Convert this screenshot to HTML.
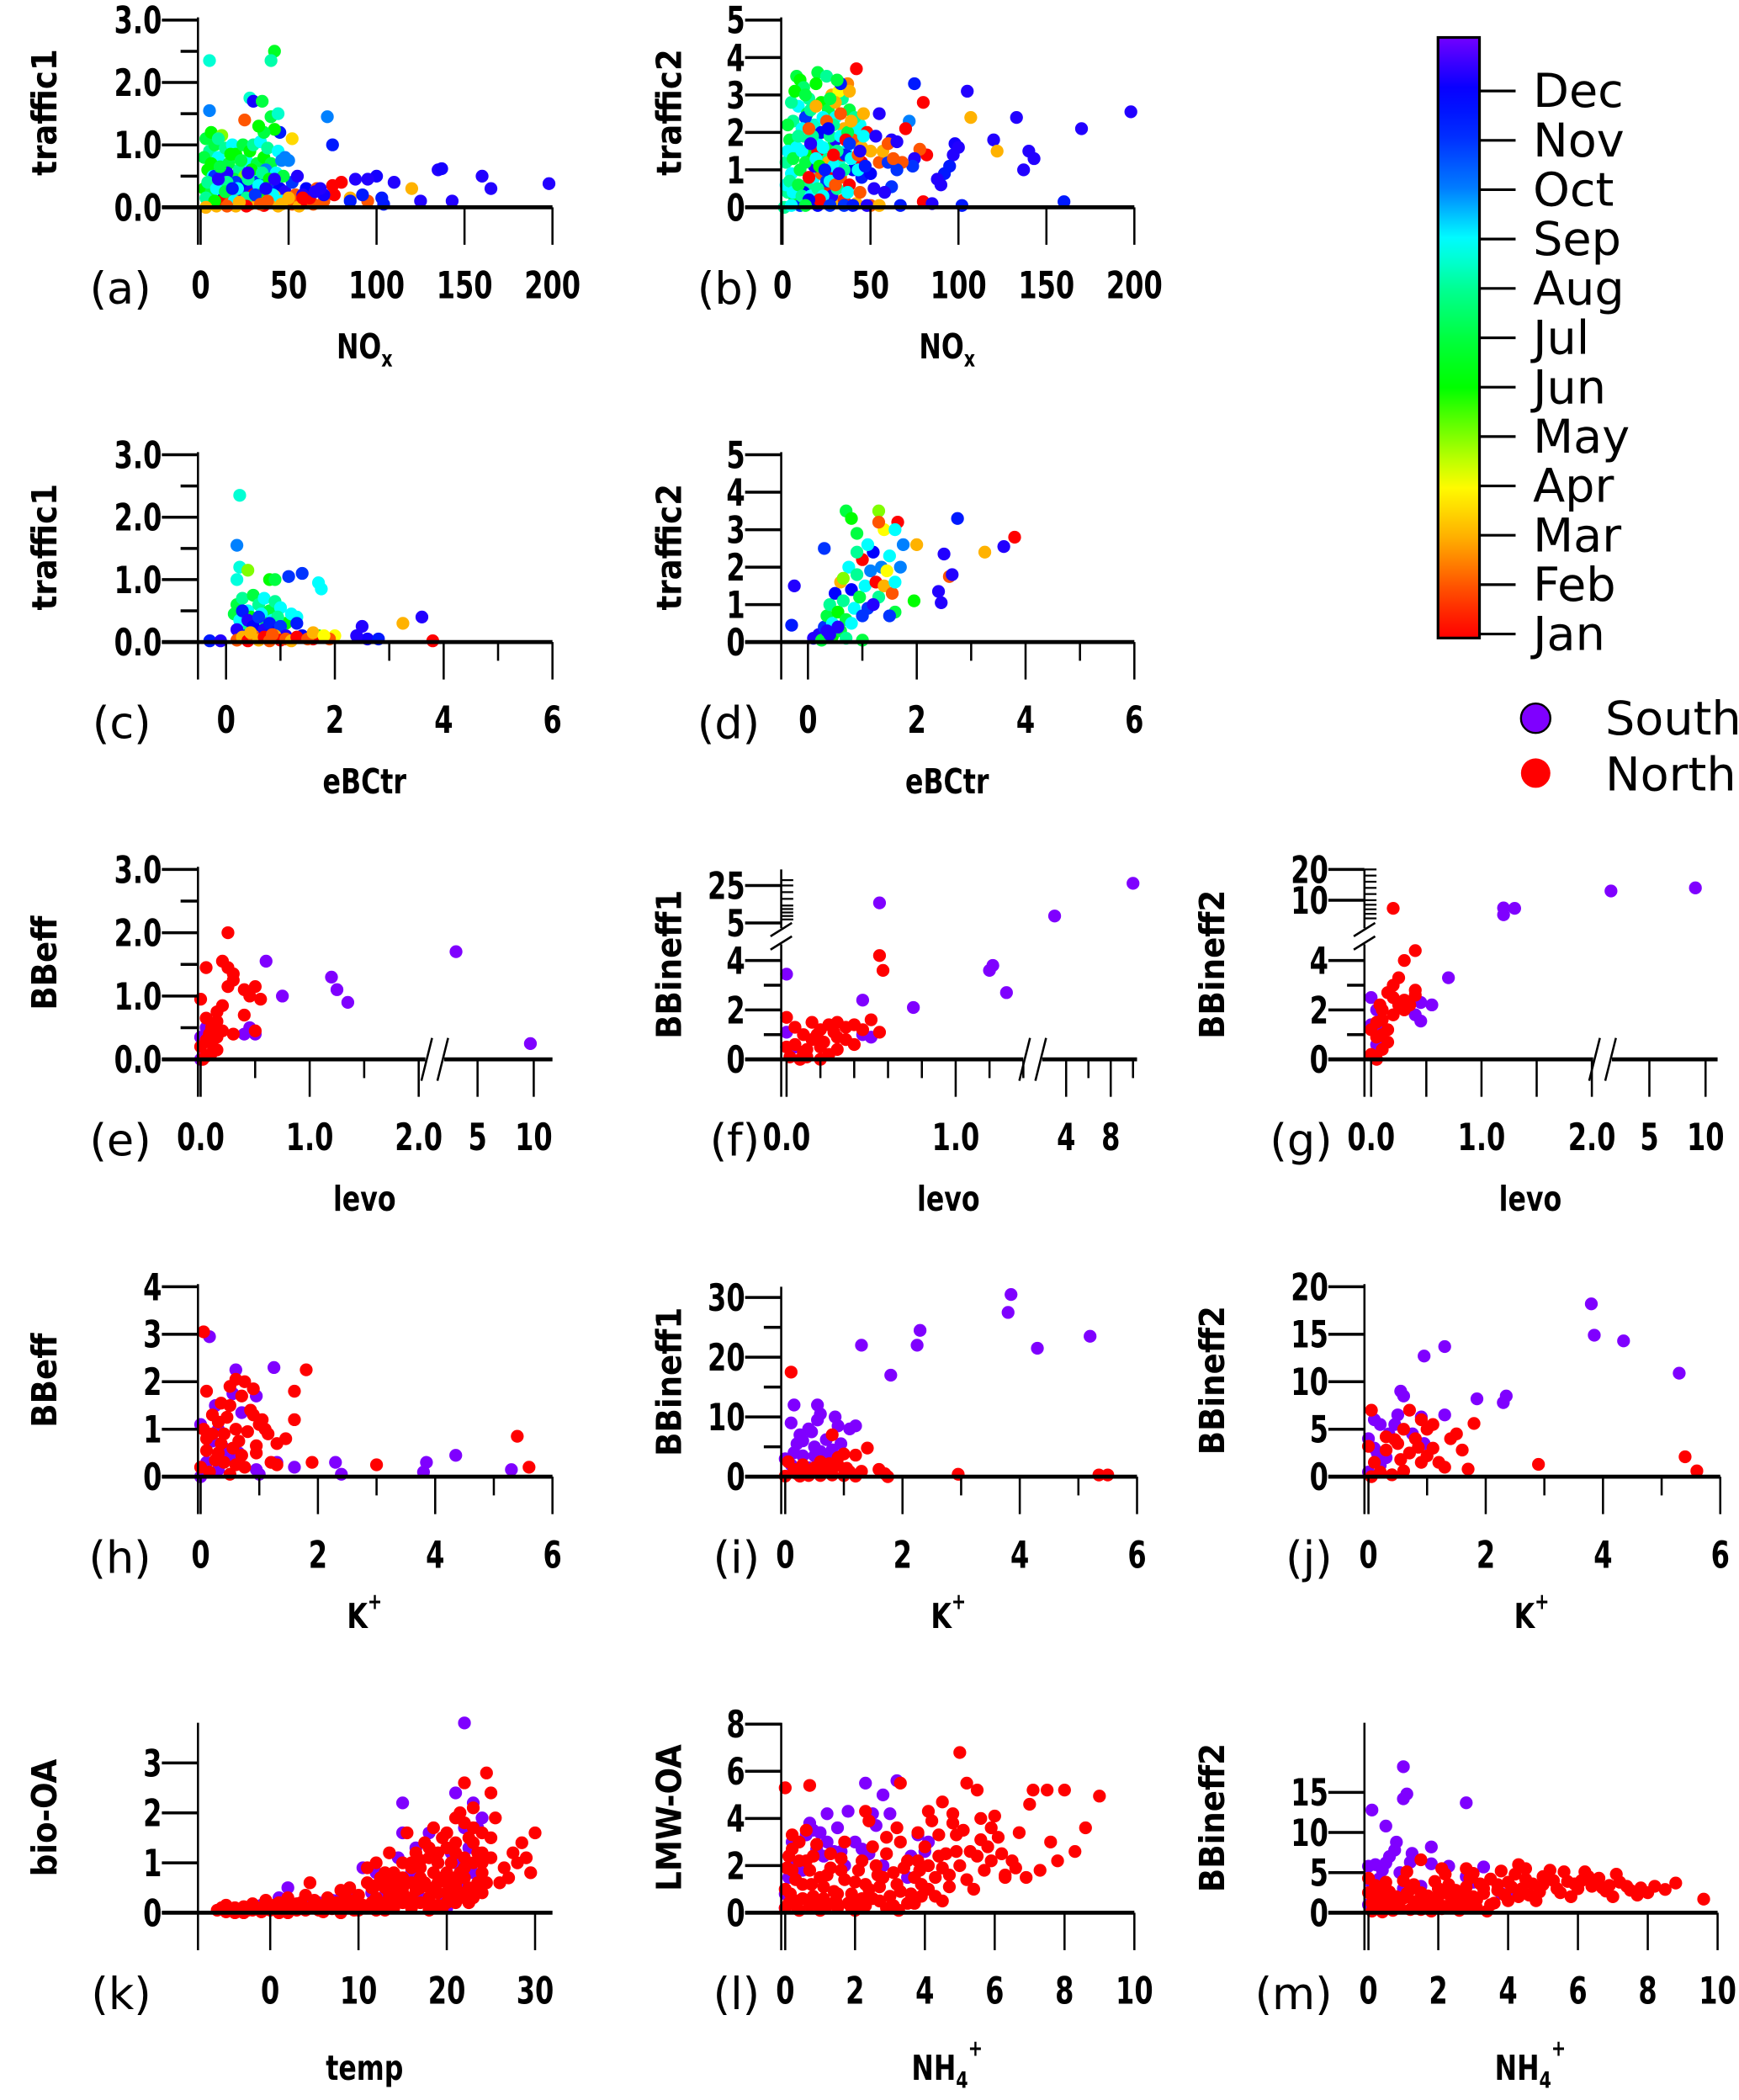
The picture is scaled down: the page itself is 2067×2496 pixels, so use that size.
<!DOCTYPE html>
<html><head><meta charset="utf-8"><style>
html,body{margin:0;padding:0;background:#fff}
svg{display:block}
.tk{font-family:"DejaVu Sans Condensed","DejaVu Sans","Liberation Sans",sans-serif;font-weight:bold;font-size:28px}
.tt{font-family:"DejaVu Sans Condensed","DejaVu Sans",sans-serif;font-weight:bold;font-size:26px}
.lt{font-family:"DejaVu Sans","Liberation Sans",sans-serif;font-size:33px}
.cb{font-family:"DejaVu Sans","Liberation Sans",sans-serif;font-size:35px}
</style></head><body>
<svg id="fig" xmlns="http://www.w3.org/2000/svg" width="2067" height="2496" viewBox="0 0 1300 1570" preserveAspectRatio="none">
<g id="cbar"></g>
<g id="legend">
<circle cx="1148" cy="537" r="11" fill="#7f00ff" stroke="#000" stroke-width="1.5"/>
<text class="cb" x="1200" y="549">South</text>
<circle cx="1148" cy="578" r="11" fill="#ff0000"/>
<text class="cb" x="1200" y="591">North</text>
</g>
</svg>
<script>
// ---- data: [x, y, month] for month-coloured panels ----
const aPts=[[5,2.35,8.6],[42,2.5,6.5],[40,2.35,8.2],[28,1.75,8.5],[30,1.7,12.2],[35,1.7,7],[5,1.55,10],[25,1.4,2],[40,1.45,7],[44,1.5,8.5],[72,1.45,10],[75,1.0,11.5],[52,1.1,3.5],[45,1.2,11.5],
[3,1.1,7],[5,0.9,8],[6,1.2,6],[8,1.0,7],[10,0.8,9],[12,1.15,5],[14,0.95,8],[16,0.7,7],[18,1.0,9],[20,0.85,6],[22,0.6,8],[24,1.0,7],[26,0.75,9],[28,0.9,6],[30,1.0,8],[32,0.7,7],[34,1.05,9],[36,0.8,6],[38,0.95,8],[40,0.7,7],[42,1.25,6],[44,0.9,9],[46,0.75,10],[48,0.8,10],[50,0.75,10],[36,1.2,7],[33,1.3,6],[10,1.1,8],[4,0.6,6],[7,0.5,9],[13,0.55,8],[19,0.45,7],[25,0.5,5],[31,0.55,9],[37,0.6,10],[43,0.55,9],[2,0.3,6],[6,0.25,7],[11,0.35,8],[17,0.3,6],[23,0.25,9],
[8,0.5,11],[15,0.55,12.3],[20,0.4,11],[25,0.35,12],[28,0.25,12.3],[32,0.4,11],[35,0.3,12],[40,0.35,11],[45,0.3,12],[48,0.25,12.3],[52,0.4,11],[55,0.5,12.3],[60,0.3,12],[13,0.15,12],[22,0.2,11],[38,0.15,12.3],[50,0.1,11],
[5,0.05,2],[9,0.02,3],[12,0.1,1],[16,0.05,2],[20,0.02,3],[24,0.1,1],[28,0.05,2],[32,0.1,3],[36,0.03,1],[40,0.08,2],[44,0.02,3],[48,0.1,1],[52,0.05,2],[56,0.02,3],[60,0.1,1],[64,0.05,2],[18,0.15,2],[30,0.2,1],[42,0.18,3],[54,0.2,2],[62,0.15,1],[70,0.1,2],[76,0.2,1],[85,0.15,3],[95,0.1,2],
[110,0.4,12.3],[100,0.5,12.2],[95,0.45,12.3],[88,0.45,12.3],[120,0.3,3],[135,0.6,12.3],[137,0.62,12.2],[160,0.5,12.3],[165,0.3,12.3],[198,0.38,12.3],[143,0.1,12.3],[125,0.1,12.3],[104,0.05,11.5],[85,0.1,11.5],[103,0.15,11.5],[80,0.4,1],[75,0.35,1],[66,0.3,2],[92,0.2,11.5],[70,0.2,12.2],[65,0.25,12.3]];
const aPts2=[[2,0.8,7],[4,0.4,8],[6,0.7,6],[9,0.3,9],[11,0.65,7],[15,0.4,8],[17,0.85,6],[21,0.3,9],[23,0.75,7],[27,0.45,8],[29,0.6,6],[33,0.35,9],[35,0.55,8],[39,0.45,6],[41,0.2,9],[47,0.5,7],[3,0.15,8],[8,0.1,6],[14,0.25,7],[19,0.1,9],[26,0.15,8],[34,0.2,6],[46,0.1,9],[10,0.45,12.3],[18,0.3,11.5],[27,0.55,12.3],[31,0.2,11],[37,0.3,12.2],[42,0.45,12.3],[58,0.2,12.3],[68,0.3,12.3],[15,0.02,2],[26,0.02,1],[34,0.05,2],[46,0.05,3],[58,0.15,1],[3,0.0,3],[22,0.08,3],[38,0.1,2],[50,0.15,3]];
const bPts=[[8,3.5,7],[10,3.4,6],[12,3.2,7.5],[20,3.6,7],[25,3.5,8],[15,2.9,8],[6,2.3,8],[9,2.7,9],[14,2.5,7],[18,2.2,8.5],[22,2.8,6],[26,2.6,7],[30,2.4,9],[34,2.9,8],[38,2.6,7],[40,2.0,9],[44,2.2,9],[4,1.8,7],[8,1.6,9],[12,1.9,8],[16,1.4,6],[20,1.7,9],[24,1.3,8],[28,1.6,7],[32,1.2,8.5],[36,1.5,9],[42,1.7,9.3],[2,1.2,8],[5,0.9,9],[10,1.0,7],[14,0.6,8],[18,0.8,9],[3,0.4,8],[7,0.2,7],[1,0.0,8],[2,0.6,9],
[28,3.0,3],[32,3.1,4],[37,3.3,2.5],[38,3.1,3],[30,2.8,3],[24,2.0,4],[35,2.1,3],[40,1.8,2],[26,1.2,3],[33,0.8,2],[22,0.9,2],[45,1.6,3],[50,1.5,3],[55,1.2,2],[30,0.2,3],[42,0.1,3],[50,0.05,2],
[42,3.7,1],[20,1.5,1],[28,1.0,1],[34,1.4,1.2],[38,0.6,1],[45,1.2,1],[48,2.0,1.2],[15,0.8,1],[25,0.5,1.3],[35,0.2,1.5],
[33,3.3,11.5],[13,2.4,11],[22,2.0,12],[30,1.8,12.3],[36,1.4,11.5],[40,1.0,12],[18,1.1,12.3],[25,0.7,11],[12,0.4,12],[28,0.3,12.3],[45,0.8,11.5],[50,0.9,12],[52,0.5,12.3],[55,2.5,12.3],[60,1.2,11],[35,0.05,11],[48,0.05,12.3],[40,0.05,11.5],[20,0.05,12],[10,0.05,11],
[75,3.3,11.5],[80,2.8,1],[105,3.1,12.3],[107,2.4,3],[133,2.4,12.3],[120,1.8,12.3],[122,1.5,3],[137,1.0,12.3],[140,1.5,12.3],[143,1.3,12.3],[170,2.1,12.3],[198,2.55,12.3],[160,0.15,11.5],[98,1.7,12.2],[100,1.6,12.3],[97,1.4,12.3],[95,1.1,11.5],[90,0.6,12.3],[92,0.9,11.5],[88,0.75,12.3],[82,1.4,1],[78,1.55,2],[75,1.3,12.3],[74,1.1,11],[72,2.3,10],[70,2.1,1],[68,1.2,2],[65,1.0,11],[62,1.8,12.3],[63,1.3,2],[62,0.55,11],[58,0.4,12.3],[57,1.5,3],[60,1.7,2],[65,1.75,12.3],[80,0.15,1],[85,0.1,12.3],[102,0.05,11.5],[67,0.05,11.5],[55,0.05,3]];
const bPts2=[[3,2.2,7],[5,2.8,8],[7,3.1,6],[11,2.1,9],[13,3.0,7],[16,2.6,8],[19,3.3,6],[23,2.4,9],[27,2.9,7],[29,2.2,8],[31,3.4,7],[3,1.5,9],[6,1.3,7],[9,1.9,8],[11,1.5,9],[13,1.2,7],[17,1.9,8],[19,1.3,9],[21,1.1,6],[23,1.6,9],[27,1.9,8],[29,1.1,9],[31,1.5,8],[33,1.9,9],[35,1.0,8],[37,2.0,7],[39,1.3,9],[41,2.4,8],[43,1.0,9],[46,1.9,9],[4,0.7,8],[6,0.4,9],[9,0.6,7],[11,0.3,8],[16,0.3,9],[20,0.5,8],[23,0.3,9],[27,0.7,9],[31,0.5,8],[37,0.4,9],[15,2.1,2],[19,2.7,3],[25,2.3,2],[29,1.4,1],[33,2.5,2],[36,1.8,1],[39,2.3,3],[43,1.4,2],[46,2.5,3],[30,0.6,2],[21,0.2,1],[44,0.4,2],[16,1.7,12.3],[24,1.0,11.5],[26,2.1,12],[32,0.9,12.3],[38,1.7,11],[44,1.5,12.3],[47,1.1,11.5],[15,0.2,12],[27,0.05,11],[53,1.9,12.3],[5,0.05,9],[13,0.05,7]];
const cPts=[[0.25,2.35,8.6],[0.2,1.55,10],[0.25,1.2,8.7],[0.2,1.0,8.7],[0.4,1.15,5],[0.8,1.0,6],[0.9,1.0,7],[1.15,1.05,11],[1.4,1.1,11],[1.7,0.95,9],[1.75,0.85,9],[1.3,0.4,9],[2.5,0.25,12.3],[2.6,0.05,12.2],[2.4,0.1,12.3],[2.8,0.05,11.5],[3.25,0.3,3],[3.6,0.4,12.3],[3.8,0.02,1],[-0.3,0.02,11.5],[-0.1,0.02,12.3],[2.0,0.1,4],[1.7,0.1,6],[1.9,0.05,2],[1.6,0.05,1],
[0.2,0.6,7],[0.3,0.7,8],[0.4,0.5,9],[0.5,0.75,7],[0.6,0.6,8],[0.7,0.7,9],[0.8,0.5,7],[0.9,0.65,8],[1.0,0.55,9],[0.45,0.4,6],[0.55,0.3,8],[0.65,0.45,9],[0.75,0.3,7],[0.85,0.35,9],[0.35,0.25,8],[1.1,0.3,6],[1.2,0.45,9],[0.15,0.45,7],[0.25,0.35,9],[0.95,0.4,8],
[0.3,0.5,11.5],[0.4,0.35,12.3],[0.5,0.25,12],[0.6,0.4,11],[0.7,0.2,12.3],[0.8,0.3,11.5],[0.9,0.15,12],[1.0,0.25,11],[1.1,0.1,12.3],[0.2,0.2,12.3],[0.35,0.1,11],[1.3,0.3,11.5],[1.4,0.1,12],[0.25,0.1,12.3],
[0.2,0.03,2],[0.3,0.08,3],[0.4,0.02,1],[0.5,0.1,2],[0.6,0.03,3],[0.7,0.08,1],[0.8,0.02,2],[0.9,0.1,3],[1.0,0.03,1],[1.1,0.05,2],[1.2,0.02,3],[1.3,0.08,1],[1.5,0.05,2],[1.6,0.15,3],[1.8,0.1,4],[0.45,0.15,3],[0.85,0.12,2]];
const dPts=[[-0.3,0.45,11.5],[-0.25,1.5,12.3],[0.1,0.1,12.3],[0.3,2.5,11],[0.7,3.5,7],[0.8,3.3,6],[1.3,3.5,5],[1.4,3.0,4],[1.3,3.2,2],[1.65,3.2,1],[1.6,3.0,9],[1.75,2.6,10],[2.0,2.6,3],[2.75,3.3,11.5],[2.5,2.35,12.3],[3.25,2.4,3],[3.6,2.55,12.3],[3.8,2.8,1],[2.6,1.75,2],[2.65,1.8,12.3],[2.4,1.35,12.3],[2.45,1.05,12.3],[1.95,1.1,6],[1.6,0.8,7],[1.5,0.7,11],[1.0,0.05,7],[0.9,2.9,7],
[0.2,0.2,12.3],[0.3,0.4,11],[0.35,0.7,7],[0.4,1.0,8],[0.45,0.5,9],[0.5,1.3,12],[0.55,0.8,6],[0.6,1.6,3],[0.65,1.1,8],[0.7,0.6,7],[0.75,2.0,9],[0.8,1.4,12],[0.85,0.9,9],[0.9,1.8,8],[0.95,1.2,7],[1.0,2.2,1],[1.05,1.5,9],[1.1,0.9,11],[1.15,1.9,10],[1.2,2.4,12],[1.25,1.6,1],[1.3,1.2,8],[1.35,2.0,10],[1.4,1.5,3],[1.45,1.9,4],[1.5,2.3,9],[1.55,1.3,2],[0.25,0.05,7],[0.45,0.15,6],[0.6,0.3,7],[0.7,0.1,8],[0.55,0.4,12.3],[0.4,0.2,12.3],[0.8,0.5,9],[1.0,0.7,11],[0.65,1.7,5],[0.9,2.4,8],[1.1,2.6,9],[1.2,1.0,12.3],[0.35,0.3,12.3],[1.6,1.6,9],[1.7,2.0,10]];
// ---- data: [x, y] South (purple) and North (red) ----
const eS=[[0.05,0.5],[0.0,0.35],[0.0,0.0],[0.6,1.55],[0.75,1.0],[1.2,1.3],[1.25,1.1],[1.35,0.9],[0.45,0.5],[0.5,0.4],[0.4,0.4],[3.9,1.7],[9.7,0.25]];
const eN=[[0.25,2.0],[0.2,1.55],[0.25,1.45],[0.05,1.45],[0.3,1.35],[0.3,1.25],[0.25,1.15],[0.4,1.1],[0.5,1.15],[0.45,1.0],[0.55,0.95],[0.0,0.95],[0.2,0.85],[0.15,0.75],[0.4,0.7],[0.05,0.65],[0.15,0.6],[0.1,0.5],[0.2,0.45],[0.3,0.4],[0.5,0.45],[0.05,0.3],[0.1,0.25],[0.0,0.2],[0.1,0.1],[0.05,0.05],[0.15,0.15],[0.02,0.0],[0.15,0.35],[0.08,0.4]];
const fS=[[0.0,3.45],[0.55,12],[0.45,2.4],[0.75,2.1],[1.2,3.6],[1.22,3.8],[1.3,2.7],[3.3,7],[10,27],[0.0,1.1],[0.05,0.5],[0.45,1.0],[0.5,0.9]];
const fN=[[0.55,4.2],[0.57,3.6],[0.0,1.7],[0.05,1.3],[0.1,1.0],[0.15,1.5],[0.2,1.2],[0.25,1.4],[0.3,1.5],[0.35,1.3],[0.4,1.4],[0.45,1.2],[0.5,1.6],[0.55,1.1],[0.05,0.6],[0.1,0.3],[0.15,0.8],[0.2,0.5],[0.25,0.2],[0.3,0.9],[0.02,0.1],[0.08,0.0],[0.12,0.4],[0.18,1.0],[0.22,0.7],[0.28,1.1],[0.35,0.8],[0.4,0.6],[0.12,0.1],[0.3,0.4],[0.0,0.5],[0.2,0.0]];
const gS=[[0.0,2.5],[0.05,2.0],[0.0,1.4],[0.1,1.2],[0.45,2.3],[0.55,2.2],[0.4,1.8],[0.45,1.55],[0.7,3.3],[1.2,8.3],[1.3,8.2],[1.2,6.8],[3.0,13],[9.1,14],[0.05,0.6]];
const gN=[[0.4,4.4],[0.3,4.0],[0.4,2.8],[0.4,2.6],[0.25,3.3],[0.3,2.4],[0.35,2.2],[0.2,2.5],[0.1,2.0],[0.05,1.5],[0.1,1.0],[0.15,0.7],[0.0,0.2],[0.05,0.0],[0.2,8.2],[0.2,3.0],[0.15,2.7],[0.1,1.6],[0.15,1.2],[0.05,0.9],[0.1,0.4],[0.2,1.8],[0.25,2.2],[0.3,2.0],[0.0,1.2],[0.08,2.2]];
const hS=[[0.15,2.95],[0.6,2.25],[1.25,2.3],[0.55,1.75],[0.95,1.7],[0.25,1.5],[0.0,1.1],[0.3,1.0],[0.6,0.55],[0.65,0.5],[0.4,0.6],[0.1,0.3],[0.5,0.4],[0.95,0.15],[1.0,0.05],[1.3,0.3],[1.6,0.2],[2.3,0.3],[2.4,0.05],[3.8,0.1],[3.85,0.3],[4.35,0.45],[5.3,0.15],[0.0,0.0],[0.3,0.15],[0.2,0.75],[0.7,1.35]];
const hN=[[0.05,3.05],[0.1,1.8],[0.6,2.05],[0.75,2.0],[0.5,1.9],[1.8,2.25],[1.6,1.8],[0.9,1.85],[0.7,1.7],[0.5,1.5],[0.85,1.4],[0.9,1.3],[0.45,1.25],[1.05,1.2],[1.0,1.1],[0.3,1.15],[0.6,1.0],[0.8,0.95],[0.2,0.9],[0.1,0.8],[1.15,0.9],[1.45,0.8],[1.6,1.2],[1.3,0.7],[0.55,0.6],[0.95,0.5],[0.1,0.55],[0.3,0.5],[0.4,0.3],[0.6,0.25],[0.0,0.2],[0.75,0.2],[1.2,0.3],[1.3,0.25],[1.9,0.3],[3.0,0.25],[5.4,0.85],[5.6,0.2],[0.15,0.1],[0.5,0.05],[0.25,0.35],[0.65,0.75],[0.35,0.7],[0.05,1.0],[0.2,1.3],[0.35,1.55],[0.95,0.65],[0.7,0.45],[0.4,0.9],[1.1,1.0]];
const iS=[[0.15,12],[0.55,12],[0.6,10.5],[0.85,10],[0.9,8.5],[1.2,8.5],[1.1,8],[0.4,8],[0.45,7.5],[0.1,9],[0.3,6],[0.2,5.5],[0.5,5],[0.95,5.5],[0.15,4],[0.3,3.5],[0.5,3.5],[0.7,3],[0.0,3.0],[0.1,2],[0.4,1.5],[0.6,4.2],[0.8,4.5],[1.3,22],[1.8,17],[2.25,22],[2.3,24.5],[3.8,27.5],[3.85,30.5],[4.3,21.5],[5.2,23.5],[0.25,7],[0.7,6.2],[0.55,9.5]];
const iN=[[0.1,17.5],[0.8,7],[1.4,4.8],[1.0,3.8],[1.2,3.6],[0.9,3.2],[0.6,2.5],[0.3,2],[0.5,1.5],[0.7,1.0],[0.2,0.5],[0.4,0.2],[1.3,0.9],[1.6,1.2],[1.7,0.5],[2.95,0.4],[5.35,0.3],[5.5,0.3],[0.0,0.1],[0.8,0.3],[1.1,0.8],[0.35,1.0],[0.9,1.9],[0.05,2.5],[1.2,0.1],[0.6,0.2],[0.15,1.2],[1.75,0.0],[1.0,0.2],[0.45,0.6],[0.25,0.1],[0.75,2.2],[1.05,1.4]];
const jS=[[3.8,18.2],[3.85,14.9],[4.35,14.3],[5.3,10.9],[1.3,13.7],[0.95,12.7],[1.85,8.2],[2.3,7.8],[2.35,8.5],[0.55,9],[0.6,8.5],[1.3,6.5],[0.9,6.3],[0.5,6.5],[0.1,6],[0.2,5.5],[0.35,4.5],[0.0,4],[0.1,3],[0.3,2],[0.2,1.2],[0.0,0.5],[0.95,3.5],[0.75,4.5],[0.45,5.5],[0.15,2.5]];
const jN=[[0.05,7],[0.7,7],[0.9,6],[1.8,5.6],[1.1,5.5],[0.6,5],[1.0,5],[1.5,4.5],[1.4,4],[0.3,4.2],[0.5,3.5],[0.8,4],[1.6,2.8],[1.0,2.2],[0.9,1.5],[1.2,1.5],[1.3,1.0],[1.7,0.8],[2.9,1.3],[5.4,2.1],[5.6,0.6],[0.0,3.2],[0.1,1.5],[0.2,0.5],[0.4,0.2],[0.6,0.6],[0.3,2.8],[0.7,2.5],[1.1,3],[0.05,0],[0.55,1.8],[0.45,3.9],[0.85,3.1]];
const kS=[[22,3.8],[15,2.2],[21,2.4],[23,2.2],[24,1.9],[23.5,1.7],[18,1.6],[22,1.7],[15,1.6],[14.5,1.1],[10.5,0.9],[12,0.8],[16.5,1.3],[19,1.0],[20.5,1.2],[18.5,0.5],[17,0.3],[21.5,0.6],[22.5,1.3],[20,0.1],[16,0.8],[13,0.35],[8,0.3],[7,0.25],[5.5,0.2],[2,0.5],[4,0.25],[-1,0.15],[1,0.3],[9.5,0.3],[11.5,0.4],[14,0.6],[19.5,0.25],[24.5,1.1],[23,0.8],[21,1.0]];
const kN=[[-6,0.05],[-5.5,0.1],[-5,0.02],[-4.5,0.08],[-4,0.1],[-3.5,0.03],[-3,0.12],[-2.5,0.05],[-2,0.18],[-1.5,0.08],[-1,0.1],[-0.5,0.25],[0,0.05],[0.5,0.15],[1,0.2],[1.5,0.08],[2,0.3],[2.5,0.12],[3,0.05],[3.5,0.2],[4,0.35],[4.5,0.1],[5,0.25],[5.5,0.05],[6,0.15],[6.5,0.3],[7,0.08],[7.5,0.2],[8,0.45],[8.5,0.1],[9,0.25],[9.5,0.05],[10,0.35],[10.5,0.15],[11,0.6],[11.5,0.2],[1,0.0],[3,0.18],[5,0.1],[4.5,0.6],[9,0.5],
[11,0.9],[12,1.0],[12.5,0.7],[13,0.5],[13.5,1.2],[14,0.8],[14.5,0.4],[15,1.0],[15.5,1.6],[16,0.6],[16.5,1.2],[17,0.9],[17.5,1.4],[18,0.5],[18.5,1.7],[19,1.0],[19.5,0.7],[20,1.3],[20.5,0.3],[21,1.9],[21.5,2.0],[22,2.6],[22.5,1.5],[23,2.1],[23.5,1.2],[24,0.8],[24.5,2.8],[25,2.4],[25.5,1.9],[26,0.6],[26.5,0.9],[27,0.7],[28,1.0],[28.5,1.4],[29,1.1],[29.5,0.8],[30,1.6],[27.5,1.2],[23,0.3],[22.5,0.5],[21.5,0.8],[20,0.2],[19,0.4],[17,0.2],[16,0.3],[15,0.2],[14,0.1],[13,0.05],[12,0.3],[18,1.1],[19.5,1.5],[20.5,1.0],[21,1.4],[22,1.1],[23.5,0.6],[24,1.6],[25,1.1],[15,0.7],[16.5,0.45],[13.5,0.35],[12.5,0.15],[17.5,0.6],[18.5,0.8],[20,0.6],[21,0.55],[22,0.9],[23,1.7]];
const kN2=[[-5,0.15],[-3,0.0],[-1,0.02],[1,0.1],[2,0.0],[4,0.05],[6,0.02],[7,0.18],[8,0.0],[10,0.05],[11,0.1],[12,0.05],[13,0.2],[14,0.3],[15,0.4],[16,0.1],[17,0.5],[18,0.25],[19,0.15],[20,0.4],[21,0.2],[22,0.3],[23,0.5],[24,0.4],[12,0.55],[13,0.8],[14,0.55],[15,0.5],[16,0.9],[17,0.7],[18,0.3],[19,0.6],[20,0.8],[21,0.7],[22,0.7],[23,1.0],[24,1.2],[18,1.3],[20,1.6],[22,1.8],[17,1.05],[19,1.2],[21,1.2],[23,1.4],[24,1.0],[25,1.5],[16,1.0],[14.5,0.7],[13.5,0.6],[11.5,0.5],[10,0.2],[21.5,0.4],[22.5,0.2],[24.5,0.6],[19.5,0.1],[18,0.05],[15.5,0.3],[20.5,0.5],[9,0.1],[8.5,0.3],[6,0.05],[3.5,0.1],[0,0.15],[-2,0.05],[-4,0.0]];
const lS=[[0.6,3.3],[1.0,3.4],[0.8,3.5],[1.2,3.0],[1.4,2.6],[0.9,2.7],[1.6,2.6],[2.2,2.7],[2.4,2.5],[2.5,4.2],[2.6,3.7],[2.8,5.0],[2.3,5.5],[3.0,4.2],[3.2,5.6],[3.8,3.3],[4.0,2.6],[4.1,3.0],[3.6,2.4],[2.8,2.0],[3.5,1.5],[1.2,4.2],[1.5,3.6],[0.7,3.8],[0.2,3.0],[0.1,1.5],[0.0,0.8],[0.3,2.0],[0.5,1.8],[1.7,2.0],[2.0,3.0],[1.1,2.4],[0.0,0.2],[1.8,4.3]];
const lN=[[0,5.3],[0.7,5.4],[2.3,4.3],[2.4,3.9],[3.3,5.5],[4.1,4.3],[4.5,4.7],[4.8,4.2],[5.0,6.8],[5.5,5.2],[5.2,5.5],[5.1,3.5],[4.9,3.3],[3.8,3.4],[4.4,3.3],[6,4.1],[7,4.6],[7.1,5.2],[7.5,5.2],[8.0,5.2],[9.0,4.95],[8.6,3.6],[7.6,3.0],[7.8,2.2],[6.6,1.9],[6.9,1.5],[6.3,1.5],[6.2,2.5],[5.9,3.6],[5.8,2.8],[5.5,2.4],[5.3,2.6],[5.0,2.0],[4.6,2.5],[4.3,1.5],[4.1,1.0],[3.8,2.2],[3.6,0.8],[3.4,1.9],[3.2,1.2],[3.0,0.7],[2.8,1.5],[2.6,2.0],[2.4,1.0],[2.2,0.6],[2.0,1.3],[1.8,0.4],[1.6,1.8],[1.4,0.9],[1.2,0.3],[1.0,1.5],[0.8,0.7],[0.6,2.2],[0.5,1.2],[0.4,3.0],[0.3,0.5],[0.2,1.8],[0.1,2.4],[0.0,1.0],[0.0,0.2],[0.15,0.8],[0.4,0.1],[0.7,0.3],[1.1,0.6],[1.5,0.2],[1.9,0.8],[2.3,0.3],[2.7,0.5],[3.1,0.3],[3.5,0.4],[2.5,2.8],[1.3,2.5],[0.9,2.9],[0.2,3.3],[0.6,3.5],[1.7,3.0],[4.0,2.8],[4.7,1.6],[5.4,1.0],[5.7,1.8],[6.5,2.2],[3.9,0.7],[2.9,2.5],[3.3,3.0],[1.0,0.1],[2.0,0.1],[3.2,3.6],[4.2,3.9],[5.6,4.0],[6.3,1.6],[4.5,0.5],[2.9,3.2],[3.7,1.5]];
const lN2=[[0.1,0.4],[0.3,1.4],[0.5,0.6],[0.7,1.8],[0.9,0.4],[1.1,1.1],[1.3,1.9],[1.5,0.8],[1.7,1.4],[1.9,0.2],[2.1,1.8],[2.3,1.2],[2.5,0.6],[2.7,1.1],[2.9,0.2],[3.1,1.7],[3.3,0.9],[3.5,2.2],[3.7,0.4],[3.9,1.2],[4.1,2.0],[4.3,0.7],[4.5,1.9],[4.7,1.1],[4.9,2.6],[0.2,2.7],[0.4,2.2],[0.8,2.4],[1.2,1.6],[1.6,2.3],[2.2,2.2],[0.05,1.9],[0.35,0.2],[0.75,1.2],[1.45,0.5],[2.05,0.5],[2.65,1.6],[3.25,0.1],[3.85,1.8],[4.4,2.4],[5.2,1.4],[5.9,2.2],[6.1,3.2],[7.3,1.8],[6.7,3.4],[8.3,2.6],[5.6,3.1],[4.8,3.8]];
const mS=[[1.0,18.2],[1.1,14.8],[1.0,14.2],[2.8,13.7],[0.1,12.8],[0.5,10.8],[0.8,8.8],[0.75,7.8],[1.25,7.4],[1.8,8.2],[0.6,7.0],[0.5,6.2],[0.2,6.0],[0.0,5.8],[0.4,5.3],[0.9,5.0],[1.2,6.3],[1.8,6.1],[2.3,5.8],[3.3,5.7],[2.8,4.5],[3.0,3.8],[0.3,4.2],[0.1,3.5],[0.2,2.8],[0.6,2.0],[1.0,3.0],[1.5,3.3],[4.2,2.6],[3.8,2.4],[2.5,2.0],[0.0,1.0],[0.5,0.5],[1.5,1.2]];
const mN=[[0,4.3],[1.0,4.0],[1.5,6.6],[2.1,5.5],[2.2,4.8],[2.8,5.5],[3.8,5.2],[4.3,6.0],[4.5,5.5],[5.0,4.5],[5.2,5.3],[5.6,5.1],[6.2,5.1],[6.6,4.3],[7.1,4.8],[6.5,3.7],[6.8,2.7],[7.5,2.8],[7.2,3.8],[8.2,3.3],[8.8,3.7],[9.6,1.7],[8.0,2.5],[7.8,3.1],[6.0,3.0],[5.8,2.0],[5.5,2.5],[5.0,3.5],[4.6,2.2],[4.4,3.0],[4.0,3.8],[3.7,2.8],[3.5,4.2],[3.3,3.0],[3.0,2.0],[2.8,1.2],[2.5,2.8],[2.3,3.5],[2.0,2.0],[1.7,1.0],[1.5,2.5],[1.3,3.5],[1.0,1.8],[0.8,1.2],[0.6,2.6],[0.4,1.5],[0.2,0.5],[0.0,2.5],[0.1,0.2],[0.3,3.0],[0.7,0.3],[1.2,0.4],[1.8,0.2],[2.2,0.8],[2.6,0.3],[3.1,0.6],[3.4,0.2],[4.8,1.5],[5.3,4.0],[6.3,4.5],[7.0,2.0],[1.9,3.9],[2.9,4.3],[1.1,5.1],[0.5,3.8],[3.6,1.2],[4.2,4.8],[5.9,3.6],[1.4,0.9],[2.4,1.7]];
const mN2=[[0.1,1.2],[0.3,2.0],[0.5,0.9],[0.7,1.7],[0.9,0.6],[1.1,2.4],[1.3,1.4],[1.5,0.4],[1.7,2.1],[1.9,1.3],[2.1,0.5],[2.3,2.3],[2.5,1.2],[2.7,2.0],[2.9,0.8],[3.1,1.6],[3.3,2.4],[3.5,1.0],[3.7,3.5],[3.9,2.2],[4.1,3.2],[4.3,2.0],[4.7,3.6],[4.9,2.6],[5.1,4.1],[5.7,3.9],[6.1,4.0],[6.4,3.3],[6.9,3.4],[7.4,3.3],[0.2,3.4],[0.4,0.1],[0.8,2.0],[1.2,2.9],[1.6,1.7],[2.0,3.0],[2.4,0.6],[2.8,3.2],[3.2,3.6],[4.5,4.2],[5.4,3.0],[6.7,3.1],[8.5,2.9],[7.7,2.2],[4.0,1.5],[3.0,4.9]];
const monthNames=["Jan","Feb","Mar","Apr","May","Jun","Jul","Aug","Sep","Oct","Nov","Dec"];

const NS="http://www.w3.org/2000/svg";
const svg=document.getElementById('fig');
function mk(tag,attrs,parent){const e=document.createElementNS(NS,tag);for(const k in attrs)e.setAttribute(k,attrs[k]);(parent||svg).appendChild(e);return e;}
const hueK=[[1,0],[2,20],[3,42],[4,60],[5,90],[6,120],[7,135],[8,155],[9,180],[10,210],[11,228],[12,240],[13.2,270]];
function interp(k,v){if(v<=k[0][0])return k[0][1]+(v-k[0][0])*(k[1][1]-k[0][1])/(k[1][0]-k[0][0]);for(let i=1;i<k.length;i++){if(v<=k[i][0]){const a=k[i-1],b=k[i];return a[1]+(v-a[0])*(b[1]-a[1])/(b[0]-a[0]);}}const a=k[k.length-2],b=k[k.length-1];return b[1]+(v-b[0])*(b[1]-a[1])/(b[0]-a[0]);}
function mcol(m){return 'hsl('+interp(hueK,m).toFixed(0)+',100%,50%)';}
function ctext(parent,x,y,str,cls,anchor,sx){const g=mk('g',{transform:'translate('+x+','+y+') scale('+sx+',1)'},parent);const t=mk('text',{x:0,y:0,class:cls,'text-anchor':anchor},g);t.textContent=str;return t;}

const cb=document.getElementById('cbar');
const defs=mk('defs',{},cb);const lg=mk('linearGradient',{id:'cg',x1:0,y1:1,x2:0,y2:0},defs);
const yJan=474,yDec=68,cbTop=28,cbBot=477;
for(let i=0;i<=24;i++){const y=cbBot-(cbBot-cbTop)*i/24;const m=1+(yJan-y)/((yJan-yDec)/11);mk('stop',{offset:(i/24),'stop-color':mcol(Math.max(1,m))},lg);}
const cbr=mk('rect',{x:1075,y:cbTop,width:31,height:cbBot-cbTop,fill:'url(#cg)',stroke:'#000','stroke-width':2},cb);


monthNames.forEach((n,i)=>{const y=yJan-i*(yJan-yDec)/11;
 const t=mk('line',{x1:1106,x2:1133,y1:y,y2:y,stroke:'#000','stroke-width':2},cb);
 
 
 const tx=mk('text',{x:1146,y:y+12,class:'cb'},cb);tx.textContent=n;
 
 });

const colCfg={148:{yl:33,lt:113},584:{yl:500,lt:568},1020:{yl:906,lt:996}};
const P=[
{id:'a',sp:148,xe:413,xk:[[0,150],[200,413]],yk:[[0,155],[3,15]],yt:13,xT:[[0,1,'0'],[50,1,'50'],[100,1,'100'],[150,1,'150'],[200,1,'200']],yT:[[0,1,'0.0'],[0.5,0],[1,1,'1.0'],[1.5,0],[2,1,'2.0'],[2.5,0],[3,1,'3.0']],xt:'NO',sub:'x',yl:'traffic1',pts:aPts.concat(aPts2)},
{id:'b',sp:584,xe:848,xk:[[0,585],[200,848]],yk:[[0,155],[5,15]],yt:13,xT:[[0,1,'0'],[50,1,'50'],[100,1,'100'],[150,1,'150'],[200,1,'200']],yT:[[0,1,'0'],[1,1,'1'],[2,1,'2'],[3,1,'3'],[4,1,'4'],[5,1,'5']],xt:'NO',sub:'x',yl:'traffic2',pts:bPts.concat(bPts2)},
{id:'c',sp:148,xe:413,xk:[[0,169],[6,413]],yk:[[0,480],[3,340]],yt:338,xT:[[0,1,'0'],[1,0],[2,1,'2'],[3,0],[4,1,'4'],[5,0],[6,1,'6']],yT:[[0,1,'0.0'],[0.5,0],[1,1,'1.0'],[1.5,0],[2,1,'2.0'],[2.5,0],[3,1,'3.0']],xt:'eBCtr',yl:'traffic1',pts:cPts},
{id:'d',sp:584,xe:848,xk:[[0,604],[6,848]],yk:[[0,480],[5,340]],yt:338,xT:[[0,1,'0'],[1,0],[2,1,'2'],[3,0],[4,1,'4'],[5,0],[6,1,'6']],yT:[[0,1,'0'],[1,1,'1'],[2,1,'2'],[3,1,'3'],[4,1,'4'],[5,1,'5']],xt:'eBCtr',yl:'traffic2',pts:dPts},
{id:'e',sp:148,xe:413,xk:[[0,150],[2,313],[5,357],[10,399]],yk:[[0,792],[3,650]],yt:648,xT:[[0,1,'0.0'],[0.5,0],[1,1,'1.0'],[1.5,0],[2,1,'2.0'],[5,1,'5'],[10,1,'10']],yT:[[0,1,'0.0'],[0.5,0],[1,1,'1.0'],[1.5,0],[2,1,'2.0'],[2.5,0],[3,1,'3.0']],xt:'levo',yl:'BBeff',S:eS,N:eN,xb:325},
{id:'f',sp:584,xe:850,xk:[[0,588],[1.4,765],[4,797],[10,847]],yk:[[0,792],[4.6,707],[5,690],[10,677],[25,662],[30,658]],yt:650,xT:[[0,1,'0.0'],[0.2,0],[0.4,0],[0.6,0],[0.8,0],[1,1,'1.0'],[1.2,0],[1.4,0],[4,1,'4'],[6,0],[8,1,'8'],[10,0]],yT:[[0,1,'0'],[1,0],[2,1,'2'],[3,0],[4,1,'4'],[5,1,'5'],[25,1,'25']],yR:[6,7,8,9,10,15,20,25,30],xt:'levo',yl:'BBineff1',S:fS,N:fN,xb:772,yb:700},
{id:'g',sp:1020,xe:1284,xk:[[0,1025],[2,1190],[5,1233],[10,1275]],yk:[[0,792],[4.6,707],[5,690],[10,673],[20,650]],yt:650,xT:[[0,1,'0.0'],[0.5,1],[1,1,'1.0'],[1.5,1],[2,1,'2.0'],[5,1,'5'],[10,1,'10']],yT:[[0,1,'0'],[1,0],[2,1,'2'],[3,0],[4,1,'4'],[10,1,'10'],[20,1,'20']],yR:[6,7,8,9,10,12,14,16,18,20],xt:'levo',yl:'BBineff2',S:gS,N:gN,xb:1198,yb:700},
{id:'h',sp:148,xe:413,xk:[[0,150],[6,413]],yk:[[0,1104],[4,962]],yt:960,xT:[[0,1,'0'],[1,0],[2,1,'2'],[3,0],[4,1,'4'],[5,0],[6,1,'6']],yT:[[0,1,'0'],[1,1,'1'],[2,1,'2'],[3,1,'3'],[4,1,'4']],xt:'K',sup:'+',yl:'BBeff',S:hS,N:hN},
{id:'i',sp:584,xe:850,xk:[[0,587],[6,850]],yk:[[0,1104],[30,970]],yt:962,xT:[[0,1,'0'],[1,0],[2,1,'2'],[3,0],[4,1,'4'],[5,0],[6,1,'6']],yT:[[0,1,'0'],[5,0],[10,1,'10'],[15,0],[20,1,'20'],[25,0],[30,1,'30']],xt:'K',sup:'+',yl:'BBineff1',S:iS,N:iN},
{id:'j',sp:1020,xe:1286,xk:[[0,1023],[6,1286]],yk:[[0,1104],[20,962]],yt:960,xT:[[0,1,'0'],[1,0],[2,1,'2'],[3,0],[4,1,'4'],[5,0],[6,1,'6']],yT:[[0,1,'0'],[5,1,'5'],[10,1,'10'],[15,1,'15'],[20,1,'20']],xt:'K',sup:'+',yl:'BBineff2',S:jS,N:jN},
{id:'k',sp:148,xe:413,xk:[[0,202],[30,400]],yk:[[0,1430],[3,1318]],yt:1288,xT:[[0,1,'0'],[10,1,'10'],[20,1,'20'],[30,1,'30']],yT:[[0,1,'0'],[1,1,'1'],[2,1,'2'],[3,1,'3']],xt:'temp',yl:'bio-OA',S:kS,N:kN.concat(kN2),tly:1555},
{id:'l',sp:584,xe:848,xk:[[0,587],[10,848]],yk:[[0,1430],[8,1289]],yt:1288,xT:[[0,1,'0'],[2,1,'2'],[4,1,'4'],[6,1,'6'],[8,1,'8'],[10,1,'10']],yT:[[0,1,'0'],[2,1,'2'],[4,1,'4'],[6,1,'6'],[8,1,'8']],xt:'NH',sub:'4',sup:'+',yl:'LMW-OA',S:lS,N:lN.concat(lN2),tly:1555},
{id:'m',sp:1020,xe:1284,xk:[[0,1023],[10,1284]],yk:[[0,1430],[15,1340]],yt:1288,xT:[[0,1,'0'],[2,1,'2'],[4,1,'4'],[6,1,'6'],[8,1,'8'],[10,1,'10']],yT:[[0,1,'0'],[5,1,'5'],[10,1,'10'],[15,1,'15']],xt:'NH',sub:'4',sup:'+',yl:'BBineff2',S:mS,N:mN.concat(mN2),tly:1555}
];
P.forEach(p=>{
 const g=mk('g',{});
 
 
 const X=v=>interp(p.xk,v), Y=v=>interp(p.yk,v);
 const y0=Y(0), L=p.sp-27, cc=colCfg[p.sp];
 const mg=mk('g',{},g);
 
 
 if(p.pts){p.pts.forEach(d=>{const c=mk('circle',{cx:X(d[0]).toFixed(1),cy:Y(d[1]).toFixed(1),r:4.8,fill:mcol(d[2])},mg);
   
   });}
 else{[[p.S,'#7f00ff','south-point'],[p.N,'#ff0000','north-point']].forEach(s=>{s[0].forEach(d=>{const c=mk('circle',{cx:X(d[0]).toFixed(1),cy:Y(d[1]).toFixed(1),r:4.8,fill:s[1]},mg);
   
   });});}
 const xa=mk('line',{x1:L,x2:p.xe,y1:y0,y2:y0,stroke:'#000','stroke-width':3},g);
 
 
 const ya=mk('line',{x1:p.sp,x2:p.sp,y1:p.yt,y2:y0+28,stroke:'#000','stroke-width':1.6},g);
 
 
 p.xT.forEach(t=>{const x=X(t[0]);mk('line',{x1:x,x2:x,y1:y0,y2:y0+(t[1]?28:14),stroke:'#000','stroke-width':1.6},g);
  if(t[2]){const tx=ctext(g,x,y0+68,t[2],'tk','middle',0.8);
   
   }});
 p.yT.forEach(t=>{const y=Y(t[0]);mk('line',{x1:p.sp-(t[1]?27:13),x2:p.sp,y1:y,y2:y,stroke:'#000','stroke-width':2.2},g);
  if(t[2]){const tx=ctext(g,p.sp-27,y+10,t[2],'tk','end',0.8);
   
   }});
 if(p.yR){p.yR.forEach(v=>{const y=Y(v);mk('line',{x1:p.sp,x2:p.sp+9,y1:y,y2:y,stroke:'#000','stroke-width':1.4},g);});}
 if(p.xb){mk('rect',{x:p.xb-7,y:y0-3,width:14,height:6,fill:'#fff'},g);
  [-6,6].forEach(o=>mk('line',{x1:p.xb+o-4,x2:p.xb+o+4,y1:y0+16,y2:y0-16,stroke:'#000','stroke-width':1.6},g));}
 if(p.yb){mk('rect',{x:p.sp-2,y:p.yb-6,width:4,height:12,fill:'#fff'},g);
  [-5,5].forEach(o=>mk('line',{x1:p.sp-8,x2:p.sp+8,y1:p.yb+o+5,y2:p.yb+o-5,stroke:'#000','stroke-width':1.6},g));}
 const cx=(p.sp+p.xe)/2-8, ty=p.tly||(y0+113);
 const xg=mk('g',{transform:'translate('+cx+','+ty+') scale(0.85,1)'},g);
 const xt=mk('text',{x:0,y:0,class:'tt','text-anchor':'middle'},xg);
 
 
 xt.appendChild(document.createTextNode(p.xt));
 if(p.sub){const s=mk('tspan',{dy:6,'font-size':17},xt);s.textContent=p.sub;}
 if(p.sup){const s=mk('tspan',{dy:p.sub?-24:-14,'font-size':17},xt);s.textContent=p.sup;}
 const ymid=(p.yt+y0)/2;
 const yl=mk('text',{x:0,y:0,class:'tt','text-anchor':'middle',transform:'translate('+(cc.yl+9)+','+ymid+') rotate(-90)'},g);
 yl.textContent=p.yl;
 
 
 const lt=mk('text',{x:cc.lt,y:y0+72,class:'lt','text-anchor':'end'},g);lt.textContent='('+p.id+')';
 
 
});
</script>
</body></html>
